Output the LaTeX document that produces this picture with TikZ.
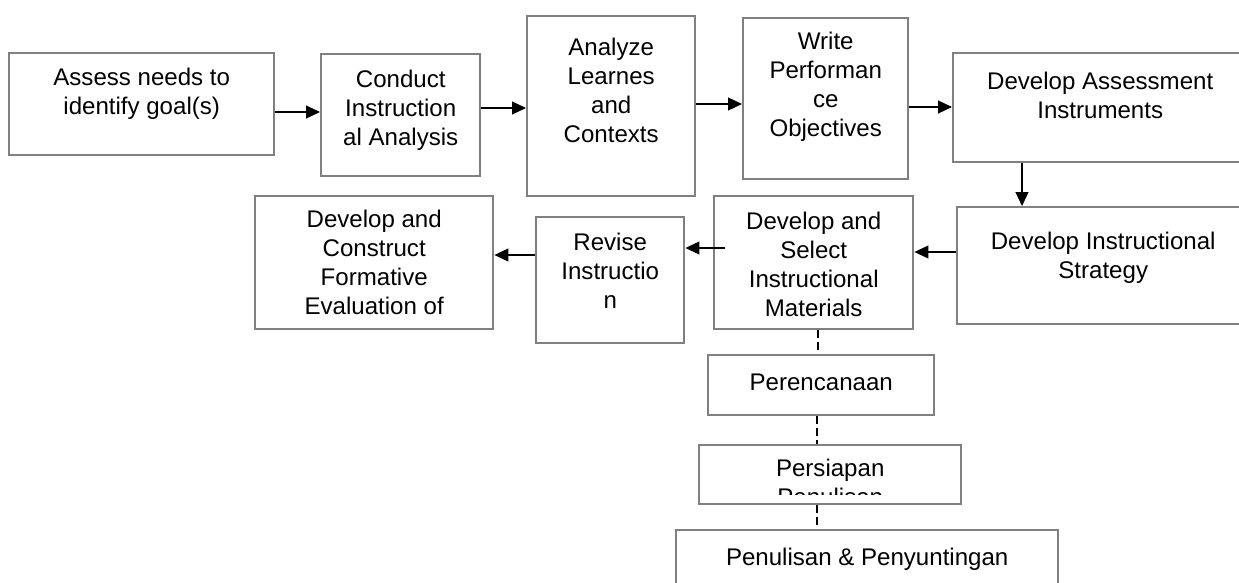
\documentclass[tikz,border=0pt]{standalone}
\usepackage{fontspec}
\setmainfont{Liberation Sans}
\usetikzlibrary{arrows.meta,positioning,calc}
\definecolor{boxgray}{RGB}{128,128,128}
\newcommand{\stagefont}{\fontsize{13.7}{16.5}\selectfont}

\begin{document}
\begin{tikzpicture}[x=0.02cm,y=-0.02cm]
\tikzset{
  stage/.style={draw=boxgray, line width=1.4pt, fill=white, inner sep=0pt, anchor=north west},
  stagetext/.style={font=\stagefont, align=center, inner sep=0pt, execute at begin node=\strut},
  link/.style={-{Triangle[length=0.28cm,width=0.26cm]}, line width=0.6pt},
  dashlink/.style={line width=0.6pt, dash pattern=on 4.5pt off 2.3pt}
}
\clip (0,0) rectangle (1239,582);
\fill[white] (0,0) rectangle (1239,582);
% top row
\node[stage, minimum width=5.30cm, minimum height=2.04cm] (assess) at (8,52) {};
\node[stagetext, below=0.32cm of assess.north] (assesstxt) {Assess needs to\\identify goal(s)};
\node[stage, minimum width=3.18cm, minimum height=2.44cm] (conduct) at (320,53) {};
\node[stagetext, below=0.34cm of conduct.north] (conducttxt) {Conduct\\Instruction\\al Analysis};
\node[stage, minimum width=3.36cm, minimum height=3.60cm] (analyze) at (526,15) {};
\node[stagetext, below=0.46cm of analyze.north] (analyzetxt) {Analyze\\Learnes\\and\\Contexts};
\node[stage, minimum width=3.30cm, minimum height=3.22cm] (write) at (742,17) {};
\node[stagetext, below=0.30cm of write.north] (writetxt) {Write\\Performan\\ce\\Objectives};
\node[stage, minimum width=5.88cm, minimum height=2.18cm] (assessment) at (952,52) {};
\node[stagetext, below=0.40cm of assessment.north] (assessmenttxt) {Develop Assessment\\Instruments};
% second row
\node[stage, minimum width=5.84cm, minimum height=2.34cm] (strategy) at (956,206) {};
\node[stagetext, below=0.52cm of strategy.north] (strategytxt) {Develop Instructional\\Strategy};
\node[stage, minimum width=3.98cm, minimum height=2.66cm] (materials) at (713,195) {};
\node[stagetext, below=0.34cm of materials.north] (materialstxt) {Develop and\\Select\\Instructional\\Materials};
\node[stage, minimum width=2.96cm, minimum height=2.52cm] (revise) at (535,216) {};
\node[stagetext, below=0.34cm of revise.north] (revisetxt) {Revise\\Instructio\\n};
\node[stage, minimum width=4.76cm, minimum height=2.66cm] (formative) at (254,195) {};
\node[stagetext, below=0.30cm of formative.north] (formativetxt) {Develop and\\Construct\\Formative\\Evaluation of};
% lower column
\node[stage, minimum width=4.52cm, minimum height=1.20cm] (perencanaan) at (707,354) {};
\node[stagetext, below=0.32cm of perencanaan.north] (perencanaantxt) {Perencanaan};
\node[stage, minimum width=5.24cm, minimum height=1.18cm] (persiapan) at (698,444) {};
\begin{scope}
\clip (persiapan.north west) rectangle (960,494);
\node[stagetext, below=0.30cm of persiapan.north] (persiapantxt) {Persiapan\\Penulisan};
\end{scope}
\node[stage, minimum width=7.64cm, minimum height=1.42cm] (penulisan) at (675,529) {};
\node[stagetext, below=0.32cm of penulisan.north] (penulisantxt) {Penulisan \& Penyuntingan};
% arrows
\draw[link] (assess.east |- 0,112) -- (conduct.west |- 0,112);
\draw[link] (conduct.east |- 0,108) -- (analyze.west |- 0,108);
\draw[link] (analyze.east |- 0,104) -- (write.west |- 0,104);
\draw[link] (write.east |- 0,107) -- (assessment.west |- 0,107);
\draw[link] (1022,0 |- assessment.south) -- (1022,0 |- strategy.north);
\draw[link] (strategy.west |- 0,252) -- (materials.east |- 0,252);
\draw[link] ($(materials.west |- 0,248)+(12,0)$) -- (revise.east |- 0,248);
\draw[link] (revise.west |- 0,255) -- (formative.east |- 0,255);
% dashed links
\draw[dashlink] (818,0 |- materials.south) -- (818,0 |- perencanaan.north);
\draw[dashlink] (817,0 |- perencanaan.south) -- (817,0 |- persiapan.north);
\draw[dashlink] (817,0 |- persiapan.south) -- (817,0 |- penulisan.north);
\end{tikzpicture}
\end{document}
